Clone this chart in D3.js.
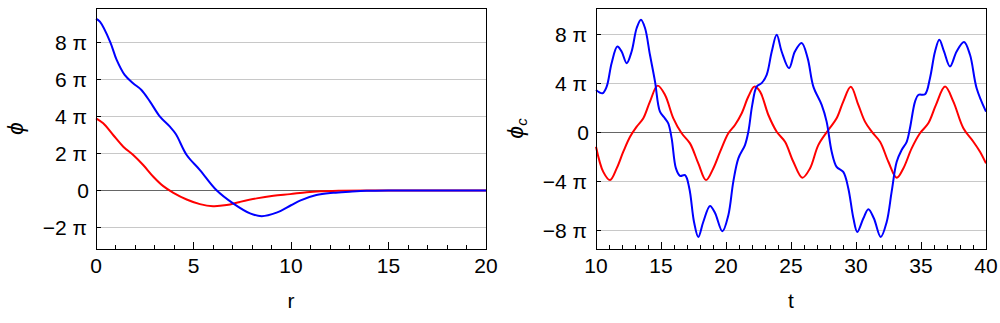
<!DOCTYPE html>
<html>
<head>
<meta charset="utf-8">
<script src="https://cdn.jsdelivr.net/npm/d3@7"></script>
<style>
  body { margin: 0; background: #fff; }
  text { font-family: "Liberation Sans", Arial, sans-serif; fill: #000; }
</style>
</head>
<body>
<div id="chart"></div>
<script>
// values are in units of pi
const rBlue = [0, 0.2, 0.72, 1.06, 1.47, 1.9, 2.33, 2.77, 3.28, 3.79, 4.1, 4.65, 5.33, 6.17, 7.03, 7.9, 8.5, 9.26, 10.0, 10.46, 11.3, 12.17, 13.0, 13.87, 15, 17, 20];
const phiBlue = [9.26, 9.1, 8.03, 7.04, 6.23, 5.78, 5.42, 4.79, 3.98, 3.44, 3.03, 1.91, 1.1, 0.02, -0.7, -1.24, -1.39, -1.2, -0.8, -0.55, -0.25, -0.13, -0.07, -0.02, 0, 0, 0];

const rRed = [0, 0.37, 0.88, 1.4, 1.91, 2.42, 2.94, 3.45, 3.97, 4.65, 5.33, 6.0, 6.7, 7.38, 8.24, 9.1, 9.95, 10.8, 11.5, 12.5, 14, 17, 20];
const phiRed = [3.89, 3.62, 2.99, 2.36, 1.91, 1.37, 0.74, 0.23, -0.13, -0.49, -0.74, -0.85, -0.79, -0.62, -0.43, -0.29, -0.2, -0.1, -0.05, -0.02, 0, 0, 0];

const tBlue = [10, 10.5, 10.82, 11.2, 11.64, 11.97, 12.36, 12.74, 13.13, 13.46, 13.77, 14.15, 14.54, 14.92, 15.3, 15.56, 15.82, 16.15, 16.46, 16.85, 17.18, 17.54, 17.87, 18.25, 18.77, 19.15, 19.72, 20.18, 20.56, 20.95, 21.46, 21.72, 22.02, 22.36, 22.74, 23.13, 23.52, 23.9, 24.28, 24.85, 25.3, 25.82, 26.28, 26.72, 27.36, 27.74, 28.13, 28.51, 29.02, 29.41, 29.8, 30.1, 30.56, 30.95, 31.38, 31.9, 32.36, 32.74, 33.13, 33.51, 33.9, 34.15, 34.54, 34.79, 35.31, 35.69, 36.08, 36.41, 36.77, 37.23, 37.74, 38.31, 38.77, 39.28, 40];
const phicBlue = [3.45, 3.18, 3.72, 5.63, 6.99, 6.58, 5.63, 6.58, 8.49, 9.17, 8.49, 6.31, 4.13, 1.68, 1.14, 0.73, -0.49, -2.94, -3.54, -3.49, -4.57, -7.3, -8.52, -7.3, -5.99, -6.55, -8.06, -6.75, -4.03, -2.12, -1.04, 0.05, 2.23, 3.72, 4.0, 4.68, 6.58, 7.94, 6.58, 5.22, 6.58, 7.27, 6.04, 3.72, 2.23, 0.87, -1.58, -2.81, -3.22, -4.57, -7.0, -8.11, -7.02, -6.26, -7.02, -8.52, -7.3, -4.85, -2.4, -1.44, -0.77, 0.33, 2.5, 3.04, 3.1, 4.41, 6.58, 7.53, 6.58, 5.36, 6.58, 7.35, 6.31, 3.59, 1.68];

const tRed = [10, 10.56, 11.08, 11.59, 12.1, 12.62, 13.13, 13.64, 14.15, 14.74, 15.31, 15.95, 16.59, 17.23, 17.87, 18.46, 19.02, 19.55, 20.18, 20.69, 21.21, 21.72, 22.18, 22.62, 23.26, 23.9, 24.54, 25.18, 25.87, 26.46, 27.1, 27.87, 28.51, 29.02, 29.6, 30.18, 30.69, 31.21, 31.85, 32.49, 33.13, 33.64, 34.28, 34.92, 35.56, 36.15, 36.85, 37.49, 38.26, 39.03, 39.54, 40];
const phicRed = [-1.17, -3.22, -3.89, -2.94, -1.58, -0.36, 0.46, 1.14, 2.5, 3.8, 3.04, 1.14, -0.08, -0.9, -2.53, -3.89, -2.94, -1.58, -0.08, 0.6, 1.55, 2.91, 3.72, 3.31, 1.41, 0.05, -0.77, -2.4, -3.7, -2.94, -1.04, 0.19, 1.14, 2.5, 3.7, 2.23, 0.87, 0.05, -0.77, -2.4, -3.7, -2.94, -1.31, -0.08, 0.73, 2.23, 3.72, 2.5, 0.33, -0.77, -1.58, -2.53];

const leftYTicks = [-2, 0, 2, 4, 6, 8];
const rightYTicks = [-8, -4, 0, 4, 8];

const svg = d3.select("#chart").append("svg")
    .attr("width", 1000)
    .attr("height", 323);

function piLabel(d) {
    if (d === 0) return "0";
    return (d < 0 ? "\u2212" + Math.abs(d) : d) + " \u03c0";
}

function panel(opt) {
    const g = svg.append("g").attr("transform", "translate(" + opt.left + "," + opt.top + ")");
    const w = opt.width, h = opt.height;

    const x = d3.scaleLinear().domain(opt.xDomain).range([0, w]);
    const y = d3.scaleLinear().domain(opt.yDomain).range([h, 0]);

    // grid lines
    g.selectAll("line.grid").data(opt.yTicks)
        .enter().append("line")
        .attr("x1", 0).attr("x2", w)
        .attr("y1", d => y(d)).attr("y2", d => y(d))
        .attr("stroke", d => d === 0 ? "#666" : "#c8c8c8")
        .attr("stroke-width", 1)
        .attr("shape-rendering", "crispEdges");

    const line = d3.line()
        .x(d => x(d[0]))
        .y(d => y(d[1]))
        .curve(d3.curveCatmullRom.alpha(0.5));

    opt.series.forEach(s => {
        g.append("path")
            .datum(s.xs.map((v, i) => [v, s.ys[i]]))
            .attr("fill", "none")
            .attr("stroke", s.color)
            .attr("stroke-width", 2)
            .attr("d", line);
    });

    // bottom ticks, major and minor, pointing inward
    const minor = d3.range(opt.xDomain[0], opt.xDomain[1] + 0.001, 1);
    g.selectAll("line.xtick").data(minor)
        .enter().append("line")
        .attr("x1", d => x(d)).attr("x2", d => x(d))
        .attr("y1", h)
        .attr("y2", d => h - (d % 5 === 0 ? 7 : 4))
        .attr("stroke", "#000")
        .attr("shape-rendering", "crispEdges");

    g.selectAll("text.xlab").data(opt.xTicks)
        .enter().append("text")
        .attr("x", d => x(d))
        .attr("y", h + 24)
        .attr("text-anchor", "middle")
        .style("font-size", "21px")
        .text(d => d);

    // left ticks
    g.selectAll("line.ytick").data(opt.yTicks)
        .enter().append("line")
        .attr("x1", 0).attr("x2", 5)
        .attr("y1", d => y(d)).attr("y2", d => y(d))
        .attr("stroke", "#000")
        .attr("shape-rendering", "crispEdges");

    g.selectAll("text.ylab").data(opt.yTicks)
        .enter().append("text")
        .attr("x", d => d === 0 ? -7 : -9)
        .attr("y", d => y(d))
        .attr("dy", "0.36em")
        .attr("text-anchor", "end")
        .style("font-size", "21px")
        .text(piLabel);

    // frame
    g.append("rect")
        .attr("width", w).attr("height", h)
        .attr("fill", "none")
        .attr("stroke", "#000")
        .attr("stroke-width", 1)
        .attr("shape-rendering", "crispEdges");

    // x axis label
    g.append("text")
        .attr("x", w / 2)
        .attr("y", h + 59)
        .attr("text-anchor", "middle")
        .style("font-size", "21px")
        .text(opt.xLabel);

    // y axis label, rotated
    const yl = g.append("text")
        .attr("transform", "translate(" + opt.yLabelX + "," + (h / 2) + ") rotate(-90)")
        .attr("text-anchor", "middle")
        .attr("dy", "0.35em")
        .style("font-size", "23px")
        .style("font-style", "italic");
    yl.append("tspan").text("\u03d5");
    if (opt.yLabelSub) {
        yl.append("tspan")
            .attr("dy", "0.25em")
            .style("font-size", "15px")
            .text(opt.yLabelSub);
    }
}

panel({
    left: 96, top: 8, width: 390, height: 241,
    xDomain: [0, 20], yDomain: [-3.16, 9.84],
    xTicks: [0, 5, 10, 15, 20], yTicks: leftYTicks,
    xLabel: "r", yLabelX: -81, yLabelSub: null,
    series: [
        {xs: rRed, ys: phiRed, color: "#ff0000"},
        {xs: rBlue, ys: phiBlue, color: "#0000ff"}
    ]
});

panel({
    left: 596, top: 8, width: 390, height: 241,
    xDomain: [10, 40], yDomain: [-9.5, 10.12],
    xTicks: [10, 15, 20, 25, 30, 35, 40], yTicks: rightYTicks,
    xLabel: "t", yLabelX: -81, yLabelSub: "c",
    series: [
        {xs: tRed, ys: phicRed, color: "#ff0000"},
        {xs: tBlue, ys: phicBlue, color: "#0000ff"}
    ]
});
</script>
</body>
</html>
